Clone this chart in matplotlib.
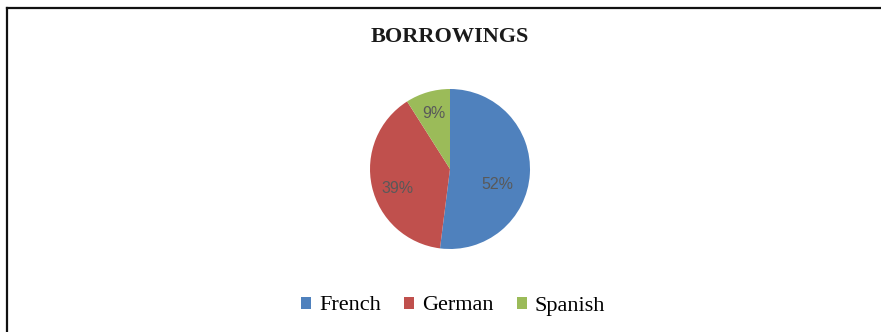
import matplotlib
matplotlib.use("Agg")
import matplotlib.pyplot as plt
from matplotlib.lines import Line2D
from matplotlib.patches import Patch
from matplotlib import font_manager

categories = ["French", "German", "Spanish"]
values = [52, 39, 9]
colors = ["#4F81BD", "#C0504D", "#9BBB59"]
title = "BORROWINGS"
# small nudges of the percentage labels (data units of the unit pie)
label_nudge = [(-0.07, -0.15), (-0.016, -0.094), (-0.016, 0.054)]

W, H = 881, 332
fig = plt.figure(figsize=(W / 100, H / 100), dpi=100)
fig.patch.set_facecolor("white")

# border (top and left visible)
fig.add_artist(Line2D([6.5 / W, 1.0], [1 - 7.5 / H, 1 - 7.5 / H], color="#111111", lw=1.6,
                      transform=fig.transFigure))
fig.add_artist(Line2D([6.5 / W, 6.5 / W], [0, 1 - 7.5 / H], color="#111111", lw=1.6,
                      transform=fig.transFigure))

names = {f.name for f in font_manager.fontManager.ttflist}
pct_family = ["Liberation Sans Narrow"] if "Liberation Sans Narrow" in names else ["Liberation Sans"]
pct_size = 13.5 if pct_family[0] == "Liberation Sans Narrow" else 11.5

cx, cy, r = 450, 169, 80
ax = fig.add_axes([(cx - r) / W, (H - cy - r) / H, 2 * r / W, 2 * r / H])
wedges, texts, autotexts = ax.pie(
    values, colors=colors, startangle=90, counterclock=False,
    autopct=lambda p: f"{p:.0f}%", pctdistance=0.66, radius=1.0,
    wedgeprops=dict(linewidth=0),
    textprops=dict(fontsize=pct_size, color="#595959", family=pct_family))
for t, (dx, dy) in zip(autotexts, label_nudge):
    x, y = t.get_position()
    t.set_position((x + dx, y + dy))
ax.set_xlim(-1, 1)
ax.set_ylim(-1, 1)
ax.set_aspect("equal")
ax.axis("off")

fig.text(cx / W, 1 - 37 / H, title, ha="center", va="center",
         fontsize=16, fontweight="bold", family="Liberation Serif", color="#1a1a1a")

handles = [Patch(facecolor=c, edgecolor="none") for c in colors]
fig.legend(handles, categories, loc="center", bbox_to_anchor=(453 / W, 1 - 306 / H),
           ncol=3, frameon=False, handlelength=0.45, handleheight=0.45,
           handletextpad=0.35, columnspacing=1.05,
           prop=dict(family="Liberation Serif", size=16))

fig.savefig("out.png", dpi=100)
